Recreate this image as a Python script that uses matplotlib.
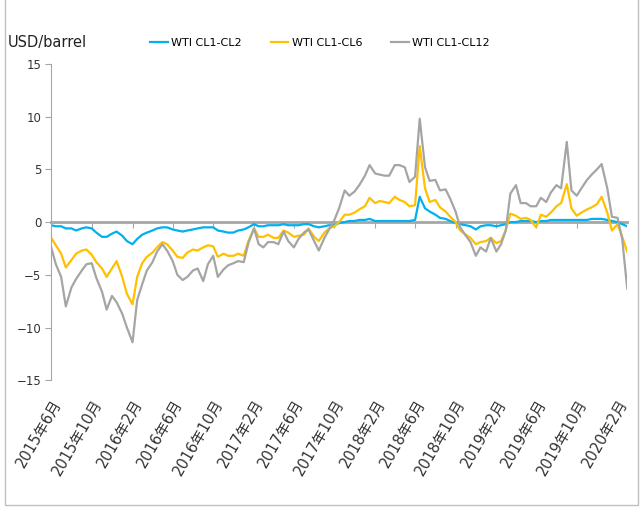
import matplotlib
matplotlib.use("Agg")
import matplotlib.pyplot as plt
from matplotlib.patches import Rectangle
import pandas as pd

plt.rcParams["font.family"] = ["DejaVu Sans", "Noto Sans CJK SC"]

# semi-monthly samples, Jun 2015 - Mar 2020
dates = pd.date_range("2015-06-01", periods=115, freq="SMS")

cl1_cl2 = [
    -0.3, -0.4, -0.4, -0.6, -0.6, -0.8, -0.6, -0.5, -0.6, -1.0,
    -1.4, -1.4, -1.1, -0.9, -1.3, -1.8, -2.1, -1.6, -1.2, -1.0,
    -0.8, -0.6, -0.5, -0.5, -0.7, -0.8, -0.9, -0.8, -0.7, -0.6,
    -0.5, -0.5, -0.5, -0.8, -0.9, -1.0, -1.0, -0.8, -0.7, -0.5,
    -0.2, -0.4, -0.4, -0.3, -0.3, -0.3, -0.2, -0.3, -0.3, -0.3,
    -0.2, -0.2, -0.4, -0.5, -0.4, -0.3, -0.3, -0.1, 0.0, 0.1,
    0.1, 0.2, 0.2, 0.3, 0.1, 0.1, 0.1, 0.1, 0.1, 0.1,
    0.1, 0.1, 0.2, 2.4, 1.3, 1.0, 0.7, 0.4, 0.3, 0.1,
    -0.1, -0.2, -0.3, -0.4, -0.7, -0.4, -0.3, -0.3, -0.4, -0.3,
    -0.2, 0.0, 0.0, 0.1, 0.1, 0.1, 0.0, 0.1, 0.1, 0.2,
    0.2, 0.2, 0.2, 0.2, 0.2, 0.2, 0.2, 0.3, 0.3, 0.3,
    0.2, 0.1, 0.0, -0.2, -0.4,
]

cl1_cl6 = [
    -1.5, -2.2, -3.0, -4.3, -3.6, -3.0, -2.7, -2.6, -3.1, -3.8,
    -4.4, -5.2, -4.4, -3.7, -5.2, -6.8, -7.8, -5.2, -3.9, -3.3,
    -2.9, -2.4, -1.9, -2.1, -2.7, -3.3, -3.4, -2.9, -2.6, -2.7,
    -2.4, -2.2, -2.3, -3.3, -3.0, -3.2, -3.2, -3.0, -3.2, -1.8,
    -0.6, -1.4, -1.4, -1.2, -1.5, -1.5, -0.8, -1.0, -1.4, -1.3,
    -1.2, -0.6, -1.4, -1.8, -1.0, -0.6, -0.4, 0.0, 0.7, 0.7,
    0.9, 1.2, 1.5, 2.3, 1.8, 2.0, 1.9, 1.8, 2.4, 2.1,
    1.9, 1.5, 1.6, 7.2, 3.2, 1.9, 2.1, 1.4, 1.0, 0.5,
    0.0, -0.8, -1.2, -1.5, -2.1, -1.9, -1.8, -1.5, -2.0, -1.8,
    -0.8, 0.8, 0.6, 0.3, 0.4, 0.2, -0.5, 0.7, 0.5, 0.9,
    1.5, 1.8, 3.6, 1.3, 0.6, 0.9, 1.2, 1.4, 1.7, 2.4,
    0.9, -0.8, -0.2, -1.4, -2.8,
]

cl1_cl12 = [
    -2.4, -4.0, -5.2, -8.0, -6.2, -5.4, -4.6, -4.0, -3.9, -5.3,
    -6.6, -8.3, -7.0, -7.6, -8.7, -10.0, -11.4, -7.4, -5.9, -4.6,
    -3.8, -2.8, -2.1, -2.7, -3.7, -5.0, -5.5, -5.2, -4.6, -4.4,
    -5.6, -4.0, -3.2, -5.2, -4.5, -4.1, -3.9, -3.7, -3.8, -2.0,
    -0.6, -2.1, -2.4, -1.9, -1.9, -2.1, -0.9, -1.8, -2.4, -1.6,
    -1.0, -0.7, -1.8, -2.7, -1.5, -0.7, 0.2, 1.3, 3.0, 2.5,
    2.9, 3.5, 4.4, 5.4, 4.6, 4.5, 4.4, 4.4, 5.4, 5.4,
    5.2, 3.8, 4.3, 9.8, 5.2, 3.9, 4.0, 3.0, 3.1, 2.2,
    1.0, -0.5, -1.3, -1.9, -3.2, -2.4, -2.8, -1.5, -2.8, -2.1,
    -0.8, 2.7, 3.5, 1.8, 1.8, 1.5, 1.5, 2.3, 1.9, 2.8,
    3.5, 3.2, 7.6, 3.0, 2.5, 3.2, 4.0, 4.5, 5.0, 5.5,
    3.2, 0.5, 0.4, -1.6, -6.3,
]

tick_dates = pd.date_range("2015-06-01", "2020-02-01", freq="4MS")
tick_labels = [f"{d.year}年{d.month}月" for d in tick_dates]

fig = plt.figure(figsize=(6.4, 5.07), dpi=100)
ax = fig.add_axes([0.08, 0.25, 0.90, 0.624])

ax.plot(dates, cl1_cl2, color="#00B0F0", lw=1.6, label="WTI CL1-CL2")
ax.plot(dates, cl1_cl6, color="#FFC000", lw=1.6, label="WTI CL1-CL6")
ax.plot(dates, cl1_cl12, color="#A5A5A5", lw=1.6, label="WTI CL1-CL12")

ax.set_ylim(-15, 15)
ax.set_yticks(range(-15, 16, 5))
ax.set_xlim(dates[0], dates[-1])

# axis line through zero with small ticks, labels sit at the bottom
ax.spines["bottom"].set_position(("data", 0))
ax.spines["bottom"].set_color("#A6A6A6")
ax.spines["bottom"].set_linewidth(2)
ax.spines["bottom"].set_zorder(0.5)
ax.spines["top"].set_visible(False)
ax.spines["right"].set_visible(False)
ax.spines["left"].set_color("#A6A6A6")
ax.set_xticks(tick_dates)
ax.tick_params(axis="x", length=4, color="#A6A6A6", labelbottom=False)
ax.tick_params(axis="y", length=4, color="#A6A6A6", labelsize=8.5,
               labelcolor="#333333", pad=3)

sec = ax.secondary_xaxis("bottom")
sec.spines["bottom"].set_visible(False)
sec.set_xticks(tick_dates)
sec.set_xticklabels(tick_labels, rotation=60, ha="right", va="top",
                    rotation_mode="anchor", fontsize=10.5, color="#333333")
sec.tick_params(length=0, pad=12)

fig.text(0.012, 1 - 42 / 507, "USD/barrel", fontsize=10.5, va="center",
         color="#222222")
fig.legend(loc="center", bbox_to_anchor=(0.50, 1 - 43 / 507), ncol=3,
           frameon=False, fontsize=8, handlelength=1.6, columnspacing=2.6,
           handletextpad=0.3)

fig.patches.append(Rectangle((0.008, 0.004), 0.989, 1.2, transform=fig.transFigure,
                             fill=False, edgecolor="#BFBFBF", lw=1))

fig.savefig("out.png", dpi=100)
